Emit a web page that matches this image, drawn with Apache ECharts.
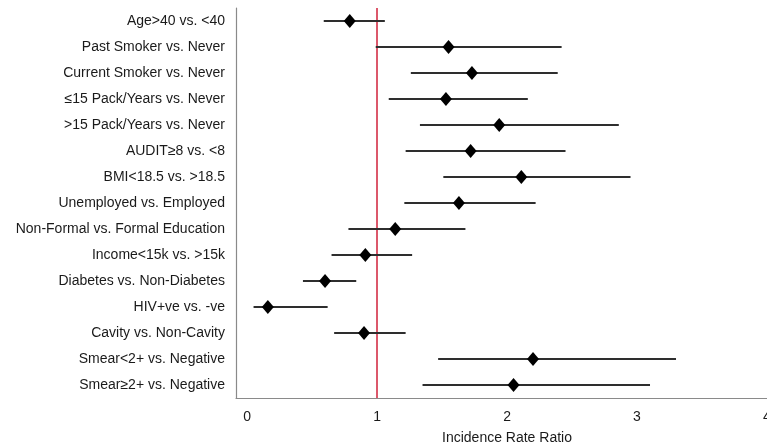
<!DOCTYPE html>
<html>
<head>
<meta charset="utf-8">
<script src="https://cdn.jsdelivr.net/npm/echarts@6/dist/echarts.min.js"></script>
<style>
html,body{margin:0;padding:0;background:#fff;}
#chart{width:767px;height:445px;}
</style>
</head>
<body>
<div id="chart"></div>
<script>
var categories = [
  "Age>40 vs. <40",
  "Past Smoker vs. Never",
  "Current Smoker vs. Never",
  "\u226415 Pack/Years vs. Never",
  ">15 Pack/Years vs. Never",
  "AUDIT\u22658 vs. <8",
  "BMI<18.5 vs. >18.5",
  "Unemployed vs. Employed",
  "Non-Formal vs. Formal Education",
  "Income<15k vs. >15k",
  "Diabetes vs. Non-Diabetes",
  "HIV+ve vs. -ve",
  "Cavity vs. Non-Cavity",
  "Smear<2+ vs. Negative",
  "Smear\u22652+ vs. Negative"
];
var irr   = [0.79, 1.55, 1.73, 1.53, 1.94, 1.72, 2.11, 1.63, 1.14, 0.91, 0.60, 0.16, 0.90, 2.20, 2.05];
var lower = [0.59, 0.99, 1.26, 1.09, 1.33, 1.22, 1.51, 1.21, 0.78, 0.65, 0.43, 0.05, 0.67, 1.47, 1.35];
var upper = [1.06, 2.42, 2.39, 2.16, 2.86, 2.45, 2.95, 2.22, 1.68, 1.27, 0.84, 0.62, 1.22, 3.30, 3.10];
var xTicks = [0, 1, 2, 3, 4];
var refLine = 1;

var chart = echarts.init(document.getElementById('chart'), null, {renderer: 'canvas'});

var ciData = categories.map(function (c, i) { return [lower[i], upper[i], i]; });
var pointData = categories.map(function (c, i) { return [irr[i], c]; });
var FONT = 'Liberation Sans, Arial, sans-serif';

var option = {
  animation: false,
  backgroundColor: '#fff',
  grid: {left: 236, right: 0, top: 8, bottom: 47, containLabel: false, outerBoundsMode: 'none'},
  xAxis: {
    type: 'value',
    min: -0.085,
    max: 4,
    interval: 1,
    name: 'Incidence Rate Ratio',
    nameLocation: 'middle',
    nameGap: 33,
    nameTextStyle: {fontSize: 14, color: '#1a1a1a', fontFamily: FONT, padding: [0, 0, 0, 11]},
    axisLine: {show: true, onZero: false, lineStyle: {color: '#8a8a8a', width: 1.2}},
    axisTick: {show: false},
    splitLine: {show: false},
    axisLabel: {
      fontSize: 14, color: '#1a1a1a', margin: 12,
      fontFamily: FONT,
      hideOverlap: false,
      customValues: xTicks,
      formatter: function (v) { return String(v); }
    }
  },
  yAxis: {
    type: 'category',
    data: categories,
    inverse: true,
    axisLine: {show: true, onZero: false, lineStyle: {color: '#8a8a8a', width: 1.2}},
    axisTick: {show: false},
    splitLine: {show: false},
    axisLabel: {fontSize: 14, color: '#1a1a1a', margin: 11, fontFamily: FONT}
  },
  series: [
    {
      type: 'custom',
      data: ciData,
      encode: {x: [0, 1], y: 2},
      renderItem: function (params, api) {
        var idx = api.value(2);
        var p1 = api.coord([api.value(0), idx]);
        var p2 = api.coord([api.value(1), idx]);
        return {
          type: 'line',
          shape: {x1: p1[0], y1: p1[1], x2: p2[0], y2: p2[1]},
          style: {stroke: '#2e2e2e', lineWidth: 2}
        };
      },
      z: 2
    },
    {
      type: 'scatter',
      data: pointData,
      symbol: 'diamond',
      symbolSize: [12, 14],
      itemStyle: {color: '#000', opacity: 1},
      z: 4,
      markLine: {
        silent: true,
        symbol: ['none', 'none'],
        label: {show: false},
        lineStyle: {color: '#d0203a', width: 1.5, type: 'solid'},
        data: [{xAxis: refLine}],
        z: 1
      }
    }
  ]
};
chart.setOption(option);
</script>
</body>
</html>
